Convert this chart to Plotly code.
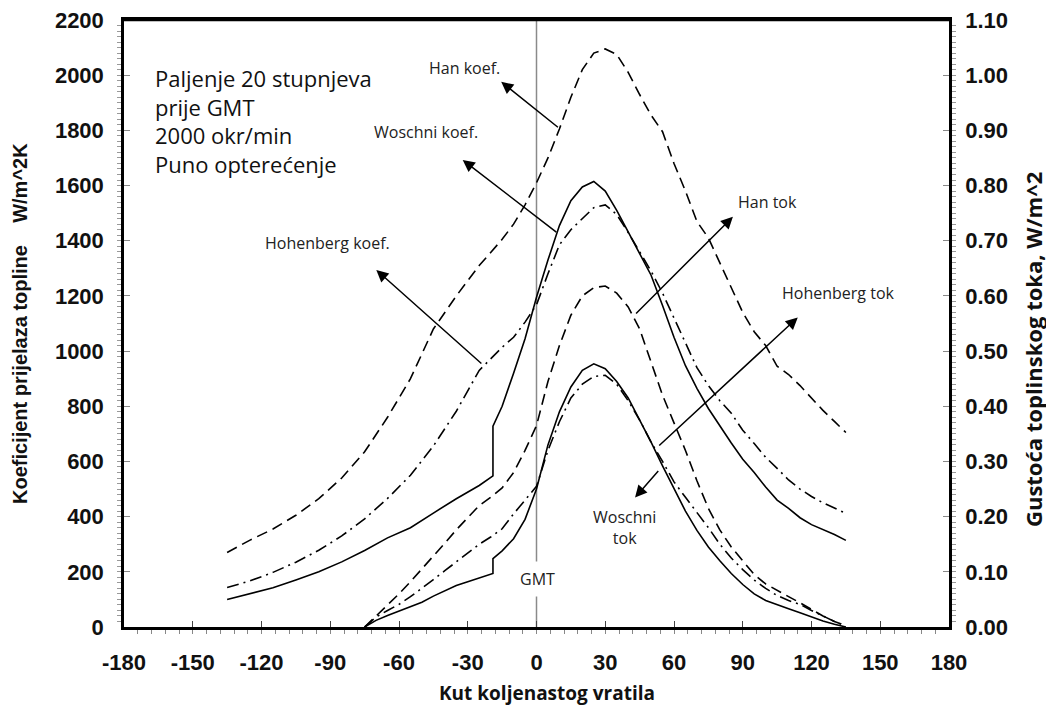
import plotly.graph_objects as go

# ---------------- data ----------------
angle_koef = [-135, -125, -115, -105, -95, -85, -75, -65, -55, -45, -35, -25, -15, -10, -5, 0,
              5, 10, 15, 20, 25, 30, 35, 40, 45, 50, 55, 60, 65, 70, 75, 80, 85, 90, 95, 100,
              105, 110, 115, 120, 125, 130, 135]
han_koef = [270, 315, 355, 405, 465, 540, 635, 760, 900, 1080, 1200, 1310, 1405, 1460, 1530, 1610,
            1700, 1805, 1920, 2020, 2080, 2095, 2075, 2010, 1930, 1855, 1795, 1680, 1580, 1470, 1410,
            1320, 1225, 1140, 1070, 1020, 945, 915, 875, 828, 785, 745, 705]
woschni_koef = [143, 167, 198, 235, 278, 330, 392, 466, 550, 656, 782, 930, 1014, 1050, 1105, 1168,
                1280, 1385, 1440, 1480, 1520, 1530, 1495, 1430, 1361, 1290, 1210, 1120, 1030, 940, 875,
                820, 775, 713, 665, 615, 575, 533, 500, 473, 450, 432, 412]

angle_hoh_koef = [-135, -125, -115, -105, -95, -85, -75, -65, -55, -45, -35, -25, -19, -19, -15, -10,
                  -5, 0, 5, 10, 15, 20, 25, 30, 35, 40, 45, 50, 55, 60, 65, 70, 75, 80, 85, 90, 95,
                  100, 105, 110, 115, 120, 125, 130, 135]
hohenberg_koef = [100, 120, 142, 170, 200, 236, 277, 323, 360, 413, 465, 513, 548, 728, 800, 920,
                  1045, 1195, 1330, 1455, 1545, 1595, 1615, 1580, 1510, 1432, 1355, 1275, 1165, 1050,
                  947, 865, 792, 727, 667, 608, 560, 507, 460, 430, 396, 371, 353, 335, 314]

angle_tok = [-75, -70, -65, -60, -55, -50, -45, -40, -35, -30, -25, -20, -15, -10, -5, 0, 5, 10, 15,
             20, 25, 30, 35, 40, 45, 50, 55, 60, 65, 70, 75, 80, 85, 90, 95, 100, 105, 110, 115, 120,
             125, 130, 135]
han_tok = [0.0, 0.02, 0.04, 0.06, 0.082, 0.105, 0.128, 0.152, 0.176, 0.198, 0.22, 0.235, 0.252, 0.28,
           0.32, 0.365, 0.445, 0.51, 0.565, 0.60, 0.615, 0.618, 0.605, 0.58, 0.54, 0.48, 0.42, 0.37,
           0.32, 0.265, 0.215, 0.176, 0.145, 0.12, 0.095, 0.078, 0.066, 0.055, 0.044, 0.032, 0.02,
           0.01, 0.002]
woschni_tok = [0.0, 0.018, 0.03, 0.041, 0.055, 0.07, 0.086, 0.102, 0.118, 0.133, 0.15, 0.163, 0.178,
               0.205, 0.23, 0.255, 0.32, 0.372, 0.415, 0.44, 0.454, 0.456, 0.44, 0.41, 0.375, 0.335,
               0.30, 0.263, 0.235, 0.208, 0.18, 0.15, 0.125, 0.104, 0.085, 0.07, 0.057, 0.048, 0.041,
               0.03, 0.02, 0.01, 0.002]

angle_hoh_tok = [-75, -70, -65, -60, -55, -50, -45, -40, -35, -30, -25, -19, -19, -15, -10, -5, 0, 5,
                 10, 15, 20, 25, 30, 35, 40, 45, 50, 55, 60, 65, 70, 75, 80, 85, 90, 95, 100, 105,
                 110, 115, 120, 125, 130, 135]
hohenberg_tok = [0.0, 0.012, 0.021, 0.029, 0.037, 0.045, 0.056, 0.066, 0.075, 0.082, 0.089, 0.097,
                 0.124, 0.138, 0.16, 0.195, 0.25, 0.33, 0.39, 0.435, 0.465, 0.477, 0.468, 0.445, 0.415,
                 0.375, 0.335, 0.292, 0.25, 0.21, 0.175, 0.145, 0.12, 0.097, 0.077, 0.06, 0.048, 0.04,
                 0.033, 0.026, 0.018, 0.011, 0.005, 0.0]

x_ticks = [-180, -150, -120, -90, -60, -30, 0, 30, 60, 90, 120, 150, 180]
x_ticktext = ["-180", "-150", "-120", "-90", "-60", "-30", "0", "30", "60", "90", "120", "150", "180"]

info_text = "Paljenje 20 stupnjeva<br>prije GMT<br>2000 okr/min<br>Puno opterećenje"
label_font = dict(family="Open Sans", size=16, color="#222")

# ---------------- figure ----------------
fig = go.Figure()
DASH = "11px,6px"
DASHDOT = "12px,5px,2px,5px"
lw = 1.6

fig.add_trace(go.Scatter(x=angle_koef, y=han_koef, mode="lines", name="Han koef.",
                         line=dict(color="black", width=lw, dash=DASH)))
fig.add_trace(go.Scatter(x=angle_koef, y=woschni_koef, mode="lines", name="Woschni koef.",
                         line=dict(color="black", width=lw, dash=DASHDOT)))
fig.add_trace(go.Scatter(x=angle_hoh_koef, y=hohenberg_koef, mode="lines", name="Hohenberg koef.",
                         line=dict(color="black", width=lw)))
fig.add_trace(go.Scatter(x=angle_tok, y=han_tok, mode="lines", name="Han tok", yaxis="y2",
                         line=dict(color="black", width=lw, dash=DASH)))
fig.add_trace(go.Scatter(x=angle_tok, y=woschni_tok, mode="lines", name="Woschni tok", yaxis="y2",
                         line=dict(color="black", width=lw, dash=DASHDOT)))
fig.add_trace(go.Scatter(x=angle_hoh_tok, y=hohenberg_tok, mode="lines", name="Hohenberg tok",
                         yaxis="y2", line=dict(color="black", width=lw)))

tickfont = dict(family="Liberation Sans", size=22, color="#111", weight="bold")

# page body adds an 8px margin, so the figure margins are reduced accordingly
fig.update_layout(
    width=1054, height=706,
    margin=dict(l=116, r=113, t=12, b=87, autoexpand=False),
    paper_bgcolor="white", plot_bgcolor="white",
    showlegend=False,
    xaxis=dict(range=[-180, 180], tickvals=x_ticks, ticktext=x_ticktext, showgrid=False,
               zeroline=False, automargin=False, ticklabeloverflow="allow",
               showline=True, linecolor="black", linewidth=2.5, mirror=True,
               ticks="inside", ticklen=6, tickcolor="#444", tickwidth=1,
               minor=dict(dtick=6, ticks="outside", ticklen=4, tickcolor="#888"),
               tickfont=tickfont, ticklabelstandoff=14),
    yaxis=dict(range=[0, 2200], dtick=200, showgrid=False, zeroline=False, automargin=False,
               ticklabeloverflow="allow",
               showline=True, linecolor="black", linewidth=2.5, mirror=True,
               ticks="inside", ticklen=6, tickcolor="#888", tickwidth=1,
               minor=dict(dtick=20, ticks="outside", ticklen=4, tickcolor="#999"),
               tickfont=tickfont, ticklabelstandoff=13),
    yaxis2=dict(range=[0, 1.1], dtick=0.1, tickformat=".2f", overlaying="y", side="right",
                showgrid=False, zeroline=False, automargin=False, ticklabeloverflow="allow",
                showline=True, linecolor="black", linewidth=2.5,
                ticks="inside", ticklen=6, tickcolor="#888", tickwidth=1,
                minor=dict(dtick=0.01, ticks="outside", ticklen=4, tickcolor="#999"),
                tickfont=tickfont, ticklabelstandoff=9),
)

# GMT vertical line and top frame line
fig.add_shape(type="line", x0=0, x1=0, xref="x", y0=0, y1=1, yref="paper",
              line=dict(color="#8a8a8a", width=1.5), layer="below")
fig.add_shape(type="line", x0=0, x1=1, xref="paper", y0=1, y1=1, yref="paper",
              line=dict(color="black", width=2.5), layer="above")

ann = []
# axis titles (positions relative to the plot area: left 124px, top 20px, 825x607px)
ann.append(dict(text="Kut koljenastog vratila", xref="paper", yref="paper",
                x=(547 - 124) / 825, y=(627 - 693) / 607, xanchor="center", yanchor="middle",
                showarrow=False,
                font=dict(family="Open Sans", size=19, color="#111", weight="bold")))
ann.append(dict(text="Koeficijent prijelaza topline\u00a0\u00a0\u00a0\u00a0W/m^2K", xref="paper",
                yref="paper", x=(20 - 124) / 825, y=(627 - 324) / 607, textangle=-90,
                xanchor="center", yanchor="middle", showarrow=False,
                font=dict(family="Liberation Sans", size=20, color="#111", weight="bold")))
ann.append(dict(text="Gustoća toplinskog toka, W/m^2", xref="paper", yref="paper",
                x=(1033 - 124) / 825, y=(627 - 350) / 607, textangle=-90,
                xanchor="center", yanchor="middle", showarrow=False,
                font=dict(family="Open Sans", size=22, color="#111", weight="bold")))

# info text
ann.append(dict(text=info_text, x=-167.5, y=1834, xref="x", yref="y", xanchor="left",
                yanchor="middle", align="left", showarrow=False,
                font=dict(family="Open Sans", size=22, color="#111")))

# labels
labels = [("Han koef.", -31.4, 2025), ("Woschni koef.", -48.2, 1794),
          ("Hohenberg koef.", -91.0, 1392), ("Han tok", 100.8, 1541),
          ("Hohenberg tok", 131.8, 1210), ("Woschni<br>tok", 38.4, 359)]
for t, x, y in labels:
    ann.append(dict(text=t, x=x, y=y, xref="x", yref="y", showarrow=False, font=label_font))
ann.append(dict(text="GMT", x=0.4, y=174, xref="x", yref="y", showarrow=False, font=label_font,
                bgcolor="white", borderpad=6))

# arrows (tail -> head)
arrows = [((10.0, 1807), (-15.4, 1976)),
          ((9.3, 1427), (-32.2, 1693)),
          ((-23.4, 950), (-69.9, 1294)),
          ((42.8, 1131), (85.7, 1487)),
          ((52.9, 653), (114.0, 1122)),
          ((53.7, 571), (43.0, 469))]
for (tx, ty), (hx, hy) in arrows:
    ann.append(dict(text="", x=hx, y=hy, ax=tx, ay=ty, xref="x", yref="y", axref="x", ayref="y",
                    showarrow=True, arrowhead=2, arrowsize=1.6, arrowwidth=1.5,
                    arrowcolor="black", standoff=0, startstandoff=0))

fig.update_layout(annotations=ann)
fig.write_html("out.html")
